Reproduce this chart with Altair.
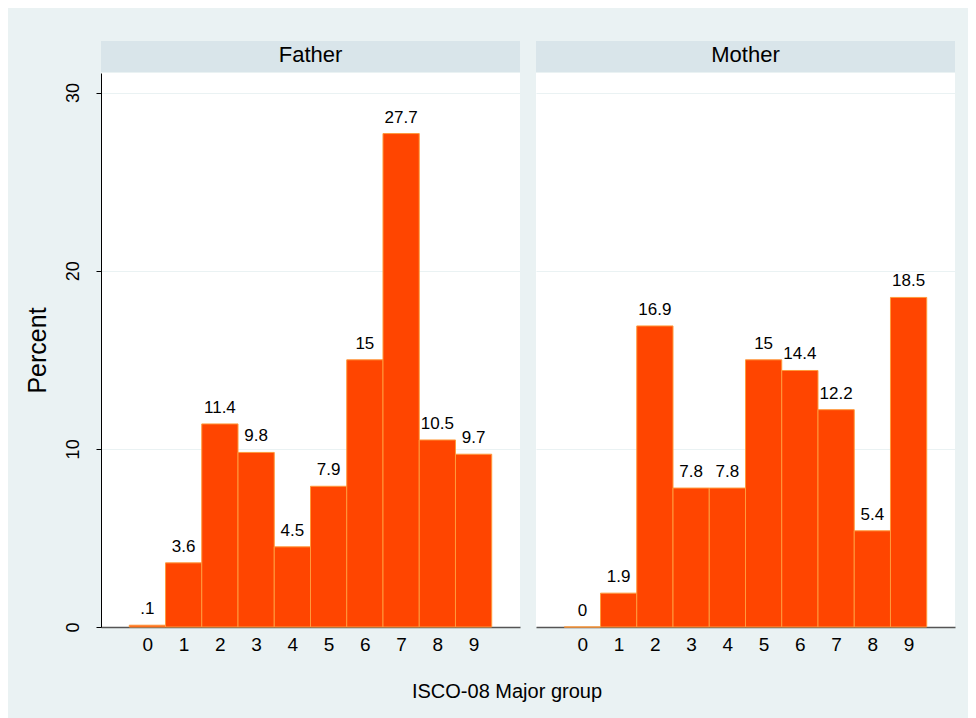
import altair as alt
import pandas as pd

groups = [0, 1, 2, 3, 4, 5, 6, 7, 8, 9]
father = [0.1, 3.6, 11.4, 9.8, 4.5, 7.9, 15.0, 27.7, 10.5, 9.7]
mother = [0.0, 1.9, 16.9, 7.8, 7.8, 15.0, 14.4, 12.2, 5.4, 18.5]
panels = ["Father", "Mother"]


def stata_fmt(v):
    s = f"{v:.1f}"
    if s.endswith(".0"):
        s = s[:-2]
    if s.startswith("0."):
        s = s[1:]
    return s


def make_df(vals):
    return pd.DataFrame({
        "g": groups,
        "lo": [g - 0.5 for g in groups],
        "hi": [g + 0.5 for g in groups],
        "pct": vals,
        "lab": [stata_fmt(v) for v in vals],
    })


FONT = "Liberation Sans"
W, H = 419, 554
XDOM = [-1.28, 10.28]
YDOM = [0, 31.1]
BAR = "#FF4500"
EDGE = "#FF9A3C"
STRIP = "#D9E5EA"
BG = "#EAF2F3"


def panel(name, vals, show_y):
    df = make_df(vals)
    base = alt.Chart(df)
    xs = alt.Scale(domain=XDOM, nice=False, zero=False)
    ys = alt.Scale(domain=YDOM, nice=False)
    if show_y:
        yaxis = alt.Axis(values=[0, 10, 20, 30], title="Percent", labelAngle=-90,
                         labelAlign="center", labelBaseline="bottom", labelPadding=14,
                         labelFontSize=18, titleFontSize=25, titlePadding=14,
                         tickSize=5, tickColor="#000000", domainColor="#000000",
                         gridColor=BG, gridWidth=1.2, labelColor="#000000",
                         titleColor="#000000", titleFontWeight="normal",
                         labelFont=FONT, titleFont=FONT)
    else:
        yaxis = alt.Axis(values=[0, 10, 20, 30], labels=False, ticks=False,
                         domain=False, title=None, gridColor=BG, gridWidth=1.2)
    xaxis = alt.Axis(values=groups, title=None, ticks=False, domainColor="#555555",
                     domainWidth=1.5, labelFontSize=19, labelPadding=8,
                     labelColor="#000000", labelFont=FONT, grid=False)
    bars = base.mark_bar(color=BAR, stroke=EDGE, strokeWidth=1).encode(
        x=alt.X("lo:Q", scale=xs, axis=xaxis),
        x2="hi:Q",
        y=alt.Y("pct:Q", scale=ys, axis=yaxis),
        y2=alt.datum(0),
    )
    labels = base.mark_text(baseline="alphabetic", dy=-11, fontSize=17, font=FONT,
                            color="#000000").encode(
        x=alt.X("g:Q", scale=xs),
        y=alt.Y("pct:Q", scale=ys),
        text="lab:N",
    )
    sdf = pd.DataFrame({"name": [name]})
    strip = alt.Chart(sdf).mark_rect(color=STRIP, clip=False).encode(
        x=alt.value(0), x2=alt.value(W), y=alt.value(-32), y2=alt.value(-1)
    )
    stext = alt.Chart(sdf).mark_text(fontSize=22, font=FONT, color="#000000",
                                     baseline="middle", clip=False).encode(
        x=alt.value(W / 2), y=alt.value(-18), text="name:N"
    )
    return alt.layer(bars, labels, strip, stext).properties(width=W, height=H)


chart = alt.hconcat(
    panel("Father", father, True),
    panel("Mother", mother, False),
    spacing=16,
).properties(
    background=BG,
    padding={"left": 17, "top": 33, "right": 13, "bottom": 23},
    title=alt.TitleParams("ISCO-08 Major group", orient="bottom", anchor="middle",
                          fontSize=20, font=FONT, fontWeight="normal",
                          color="#000000", offset=28, dx=17),
).configure_view(fill="white", stroke=None)

chart.save("out.html", embed_options={"renderer": "svg", "actions": False})
